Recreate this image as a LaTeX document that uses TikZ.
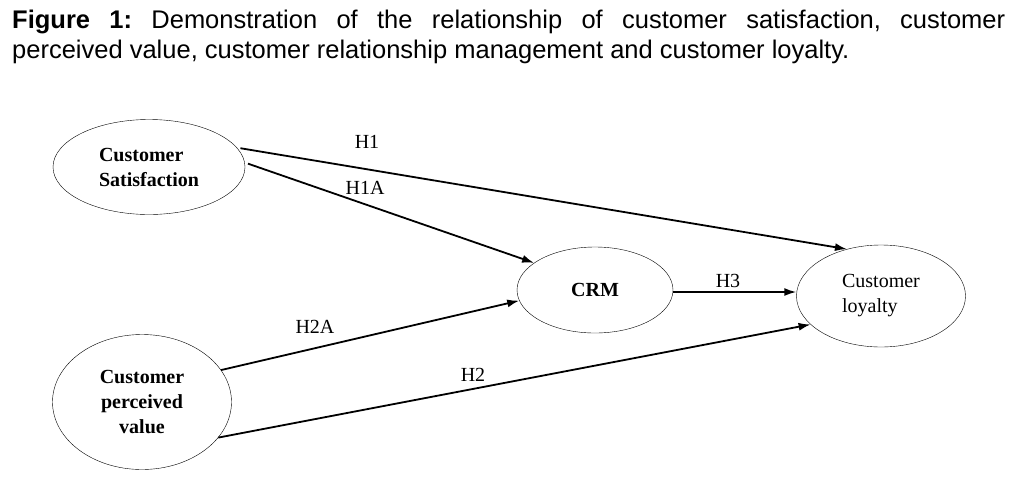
\documentclass[tikz,border=0pt]{standalone}
\usepackage{fontspec}
\setmainfont{Liberation Serif}
\newfontfamily\capfont{Liberation Sans}
\usetikzlibrary{shapes.geometric,arrows.meta}
\tikzset{
    construct/.style={draw, ellipse, inner sep=0pt, align=center, font=\fontsize{20}{25}\selectfont},
    path/.style={line width=1.8pt, -{Latex[length=12pt,width=8pt]}},
    hyp/.style={font=\fontsize{20}{25}\selectfont}
}
\frenchspacing
\begin{document}
\begin{tikzpicture}[x=1pt,y=-1pt]
            \useasboundingbox (0,0) rectangle (1015,480);
            % caption
            \node[anchor=base west, inner sep=0pt] (cap1) at (12,28) {\capfont\fontsize{25.5}{30}\selectfont\makebox[993pt][s]{\textbf{Figure 1:} Demonstration of the relationship of customer satisfaction, customer}};
            \node[anchor=base west, inner sep=0pt] (cap2) at (12,58) {\capfont\fontsize{25.5}{30}\selectfont perceived value, customer relationship management and customer loyalty.};
            % constructs
            \node[construct, align=left, minimum width=192pt, minimum height=95pt] (sat) at (149,167) {\textbf{Customer}\\\textbf{Satisfaction}};
            \node[construct, minimum width=179pt, minimum height=135pt] (val) at (142,402) {\textbf{Customer}\\\textbf{perceived}\\\textbf{value}};
            \node[construct, minimum width=156pt, minimum height=86pt] (crm) at (595,290) {\textbf{CRM}};
            \node[construct, align=left, minimum width=169pt, minimum height=102pt] (loy) at (881,296) {Customer\\loyalty};
            % hypotheses
            \draw[path] ([xshift=3pt]sat.12) -- (loy.126);
            \draw[path] ([xshift=3pt]sat.2) -- (crm.156);
            \draw[path] (val.22) -- (crm.188);
            \draw[path] (val.-25) -- (loy.202);
            \draw[path] ([yshift=-2pt]crm.east) -- ([yshift=-2pt]crm.east -| loy.west);
            \node[hyp] (h1) at (367,142) {H1};
            \node[hyp] (h1a) at (365,188) {H1A};
            \node[hyp] (h2a) at (315,327) {H2A};
            \node[hyp] (h2) at (473,375) {H2};
            \node[hyp] (h3) at (728,281) {H3};
        \end{tikzpicture}
\end{document}
